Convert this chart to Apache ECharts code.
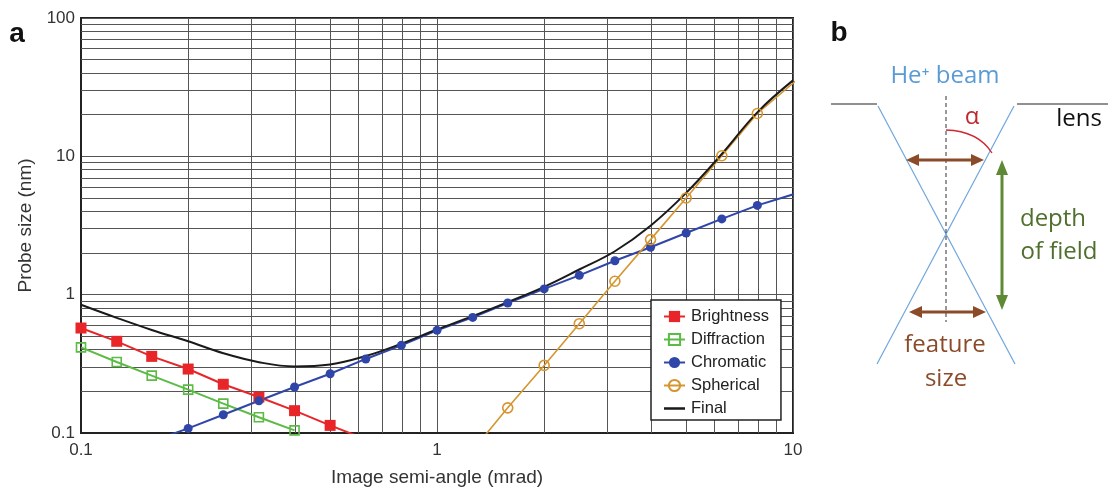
<!DOCTYPE html>
<html lang="en">
<head>
<meta charset="UTF-8">
<title>Probe size vs image semi-angle</title>
<script src="https://cdn.jsdelivr.net/npm/echarts@6/dist/echarts.min.js"></script>
<style>html,body{margin:0;padding:0;background:#fff}#main{width:1108px;height:490px}</style>
</head>
<body>
<div id="main"></div>
<script>
// probe size contributions (nm) against image semi-angle (mrad)
var brightnessX = [0.1, 0.126, 0.158, 0.2, 0.251, 0.316, 0.398, 0.501, 0.631]
var brightnessY = [0.574, 0.46, 0.358, 0.29, 0.225, 0.182, 0.145, 0.1135, 0.09]
var diffractionX = [0.1, 0.126, 0.158, 0.2, 0.251, 0.316, 0.398]
var diffractionY = [0.416, 0.326, 0.26, 0.206, 0.163, 0.13, 0.1045]
var chromaticX = [0.158, 0.2, 0.251, 0.316, 0.398, 0.501, 0.631, 0.794, 1, 1.26, 1.58, 2, 2.51, 3.16, 3.98, 5.01, 6.31, 7.94, 12.6]
var chromaticY = [0.087, 0.108, 0.1355, 0.171, 0.215, 0.268, 0.343, 0.43, 0.552, 0.685, 0.87, 1.1, 1.38, 1.76, 2.2, 2.79, 3.53, 4.42, 6.37]
var sphericalX = [1.26, 1.58, 2, 2.51, 3.16, 3.98, 5.01, 6.31, 7.94, 12.6]
var sphericalY = [0.075, 0.152, 0.308, 0.617, 1.25, 2.5, 5.0, 10.1, 20.4, 56]
var finalX = [0.1, 0.126, 0.158, 0.2, 0.251, 0.316, 0.398, 0.501, 0.631, 0.794, 1, 1.26, 1.58, 2, 2.51, 3.16, 3.98, 5.01, 6.31, 7.94, 10]
var finalY = [0.845, 0.68, 0.556, 0.46, 0.377, 0.325, 0.303, 0.313, 0.36, 0.442, 0.56, 0.7, 0.884, 1.14, 1.52, 2.06, 3.15, 5.44, 10.4, 20.8, 35.4]

// minor grid positions (2..9 in each decade)
var minorX = [0.2, 0.3, 0.4, 0.5, 0.6, 0.7, 0.8, 0.9, 2, 3, 4, 5, 6, 7, 8, 9]
var minorY = [0.2, 0.3, 0.4, 0.5, 0.6, 0.7, 0.8, 0.9, 2, 3, 4, 5, 6, 7, 8, 9, 20, 30, 40, 50, 60, 70, 80, 90]

var font = 'Liberation Sans'
var fontB = 'Open Sans'

function pairs(xs, ys) {
  return xs.map(function (x, i) { return [x, ys[i]] })
}

function lineSeries(name, xs, ys, color, symbol, size, filled, width) {
  return {
    name: name,
    type: 'line',
    z: 3,
    clip: true,
    data: pairs(xs, ys),
    symbol: symbol,
    symbolSize: size,
    showSymbol: symbol !== 'none',
    lineStyle: { color: color, width: width },
    itemStyle: filled
      ? { color: color }
      : { color: 'rgba(255,255,255,0)', borderColor: color, borderWidth: 1.6 },
    emphasis: { disabled: true },
    animation: false
  }
}

var mCharts = echarts.init(document.getElementById('main'))

// panel b: beam diagram
function arrowH(x1, x2, y, color) {
  var h = 6, l = 13
  return [
    { type: 'line', shape: { x1: x1 + l - 2, y1: y, x2: x2 - l + 2, y2: y }, style: { stroke: color, lineWidth: 3 } },
    { type: 'polygon', shape: { points: [[x1, y], [x1 + l, y - h], [x1 + l, y + h]] }, style: { fill: color } },
    { type: 'polygon', shape: { points: [[x2, y], [x2 - l, y - h], [x2 - l, y + h]] }, style: { fill: color } }
  ]
}
function arrowV(x, y1, y2, color) {
  var h = 6, l = 15
  return [
    { type: 'line', shape: { x1: x, y1: y1 + l - 2, x2: x, y2: y2 - l + 2 }, style: { stroke: color, lineWidth: 3 } },
    { type: 'polygon', shape: { points: [[x, y1], [x - h, y1 + l], [x + h, y1 + l]] }, style: { fill: color } },
    { type: 'polygon', shape: { points: [[x, y2], [x - h, y2 - l], [x + h, y2 - l]] }, style: { fill: color } }
  ]
}
function label(text, x, y, color, size, weight, fam) {
  return {
    type: 'text', x: x, y: y, silent: true,
    style: {
      text: text, fill: color, align: 'center', verticalAlign: 'middle',
      font: (weight || 'normal') + ' ' + size + 'px "' + (fam || fontB) + '"'
    }
  }
}

var brown = '#8b4a28'
var beam = '#6fa6dc'
var graphics = [
  label('a', 17, 34, '#111', 28, 'bold', font),
  label('b', 839, 33, '#111', 28, 'bold', font),
  label('He\u207A beam', 945, 76, '#5b9bd5', 24),
  label('\u03B1', 972, 117, '#c0282d', 24),
  label('lens', 1079, 119, '#111', 24),
  label('depth', 1053, 219, '#4f6f2e', 24),
  label('of field', 1059, 252, '#4f6f2e', 24),
  label('feature', 945, 345, brown, 24),
  label('size', 946, 379, brown, 24),
  { type: 'line', shape: { x1: 831, y1: 104, x2: 877, y2: 104 }, style: { stroke: '#222', lineWidth: 1.2 } },
  { type: 'line', shape: { x1: 1017, y1: 104, x2: 1108, y2: 104 }, style: { stroke: '#222', lineWidth: 1.2 } },
  { type: 'line', shape: { x1: 878, y1: 106, x2: 1015, y2: 364 }, style: { stroke: beam, lineWidth: 1.2 } },
  { type: 'line', shape: { x1: 1014, y1: 106, x2: 877, y2: 364 }, style: { stroke: beam, lineWidth: 1.2 } },
  { type: 'line', shape: { x1: 946, y1: 96, x2: 946, y2: 322 }, style: { stroke: '#333', lineWidth: 1, lineDash: [4, 3] } },
  { type: 'bezierCurve', shape: { x1: 946, y1: 130, cpx1: 978, cpy1: 131, x2: 992, y2: 153 }, style: { stroke: '#d0282d', lineWidth: 1.3, fill: null } }
].concat(arrowH(906, 984, 160, brown), arrowH(909, 986, 312, brown), arrowV(1002, 160, 310, '#5e8a36'))

var option = {
  animation: false,
  backgroundColor: '#fff',
  grid: { left: 81, right: 315, top: 18, bottom: 57, show: true, borderColor: '#222', borderWidth: 2, outerBoundsMode: 'none' },
  legend: {
    data: ['Brightness', 'Diffraction', 'Chromatic', 'Spherical', { name: 'Final', icon: 'path://M0,0L20,0L20,2.4L0,2.4Z' }],
    orient: 'vertical',
    left: 651,
    top: 300,
    z: 6,
    padding: [8, 12, 3, 12],
    itemWidth: 21,
    itemHeight: 14,
    itemGap: 6,
    backgroundColor: '#fff',
    borderColor: '#222',
    borderWidth: 1.5,
    borderRadius: 0,
    selectedMode: false,
    textStyle: { fontFamily: font, fontSize: 16.5, color: '#222', padding: [0, 0, 0, 1] }
  },
  xAxis: {
    type: 'log', logBase: 10, min: 0.1, max: 10,
    name: 'Image semi-angle (mrad)', nameLocation: 'middle', nameGap: 35,
    nameTextStyle: { fontFamily: font, fontSize: 19, color: '#333' },
    axisLine: { show: true, lineStyle: { color: '#222', width: 2 } },
    axisTick: { show: false },
    axisLabel: { fontFamily: font, fontSize: 17, color: '#333', margin: 9 },
    splitLine: { show: true, lineStyle: { color: '#555', width: 1 } }
  },
  yAxis: {
    type: 'log', logBase: 10, min: 0.1, max: 100,
    name: 'Probe size (nm)', nameLocation: 'middle', nameGap: 45, nameRotate: 90,
    nameTextStyle: { fontFamily: font, fontSize: 19, color: '#333' },
    axisLine: { show: true, lineStyle: { color: '#222', width: 2 } },
    axisTick: { show: false },
    axisLabel: { fontFamily: font, fontSize: 17, color: '#333', margin: 6 },
    splitLine: { show: true, lineStyle: { color: '#555', width: 1 } }
  },
  series: [
    {
      name: 'grid', type: 'line', z: 1, data: [[0.1, 0.1]], symbol: 'none', silent: true,
      lineStyle: { width: 0 },
      markLine: {
        z: 1, silent: true, symbol: ['none', 'none'], label: { show: false }, animation: false,
        lineStyle: { color: '#555', width: 1, type: 'solid' },
        emphasis: { disabled: true },
        data: minorX.map(function (v) { return { xAxis: v } })
          .concat(minorY.map(function (v) { return { yAxis: v } }))
      }
    },
    lineSeries('Brightness', brightnessX, brightnessY, '#e8262a', 'rect', 11, true, 2),
    lineSeries('Diffraction', diffractionX, diffractionY, '#5bbb45', 'rect', 9, false, 2),
    lineSeries('Chromatic', chromaticX, chromaticY, '#2f46a8', 'circle', 9, true, 2),
    lineSeries('Spherical', sphericalX, sphericalY, '#d5952f', 'circle', 10, false, 1.6),
    Object.assign(lineSeries('Final', finalX, finalY, '#1a1a1a', 'none', 0, true, 2), { smooth: 0.4 })
  ],
  graphic: graphics
}
mCharts.setOption(option)
</script>
</body>
</html>
